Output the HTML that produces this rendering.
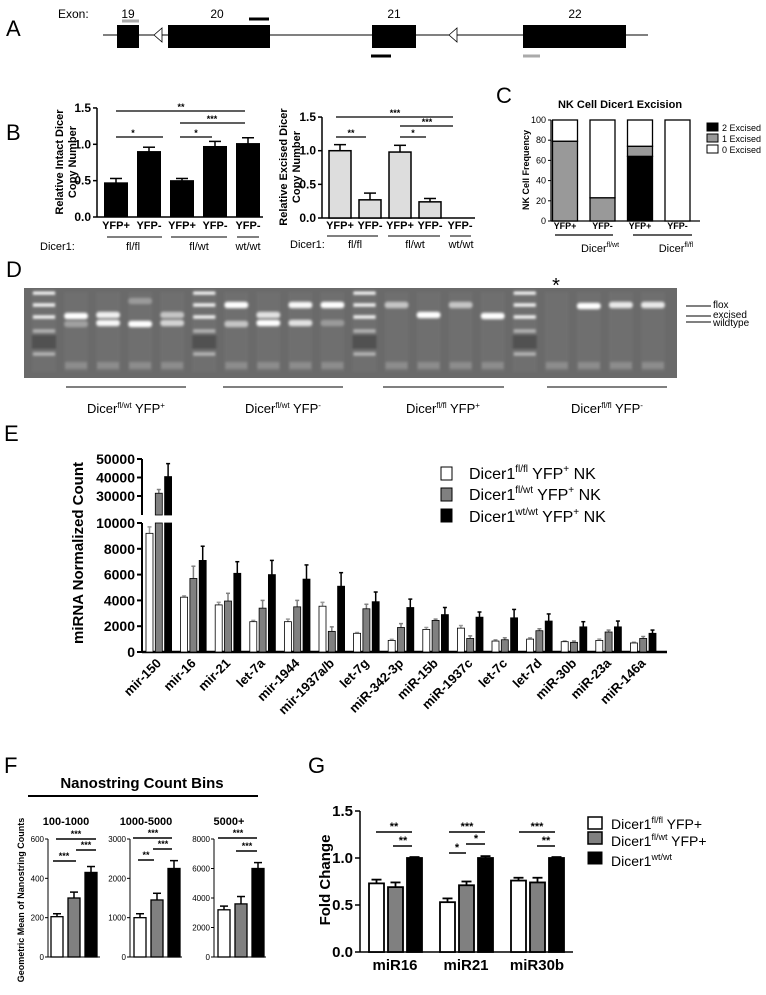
<!DOCTYPE html>
<html><head><meta charset="utf-8"><style>
html,body{margin:0;padding:0;background:#fff;}
svg{display:block;font-family:"Liberation Sans",Arial,sans-serif;}
.n{font-family:"Liberation Sans Narrow","Liberation Sans",sans-serif;}
</style></head><body>
<svg id="fig" width="766" height="995" viewBox="0 0 766 995" xmlns="http://www.w3.org/2000/svg">
<defs><filter id="blur" x="-20%" y="-50%" width="140%" height="200%"><feGaussianBlur stdDeviation="1.3"/></filter>
<filter id="blur2"><feGaussianBlur stdDeviation="3"/></filter></defs>
<!-- Panel letters -->
<g font-size="22">
<text x="6" y="36">A</text>
<text x="6" y="140">B</text>
<text x="496" y="103">C</text>
<text x="6" y="277">D</text>
<text x="4" y="441">E</text>
<text x="4" y="773">F</text>
<text x="308" y="773">G</text>
</g>
<!-- Panel A gene diagram -->
<g>
<text x="58" y="18" font-size="12">Exon:</text>
<text x="128" y="18" font-size="12" text-anchor="middle">19</text>
<text x="217" y="18" font-size="12" text-anchor="middle">20</text>
<text x="394" y="18" font-size="12" text-anchor="middle">21</text>
<text x="575" y="18" font-size="12" text-anchor="middle">22</text>
<line x1="103" y1="35" x2="648" y2="35" stroke="#000" stroke-width="1"/>
<rect x="117" y="25" width="22" height="23" fill="#000"/>
<rect x="168" y="25" width="102" height="23" fill="#000"/>
<rect x="372" y="25" width="44" height="23" fill="#000"/>
<rect x="523" y="25" width="103" height="23" fill="#000"/>
<polygon points="154,35 162,28 162,42" fill="#fff" stroke="#000" stroke-width="0.8"/>
<polygon points="449,35 457,28 457,42" fill="#fff" stroke="#000" stroke-width="0.8"/>
<line x1="122" y1="21" x2="139" y2="21" stroke="#aaa" stroke-width="3"/>
<line x1="249" y1="19" x2="269" y2="19" stroke="#000" stroke-width="3"/>
<line x1="371" y1="56" x2="391" y2="56" stroke="#000" stroke-width="3"/>
<line x1="523" y1="56" x2="540" y2="56" stroke="#aaa" stroke-width="3"/>
</g>
<!-- Panel B static -->
<g font-size="11">
<text transform="translate(63,162) rotate(-90)" text-anchor="middle" font-weight="bold">Relative Intact Dicer</text>
<text transform="translate(76,162) rotate(-90)" text-anchor="middle" font-weight="bold">Copy Number</text>
<text transform="translate(287,167) rotate(-90)" text-anchor="middle" font-weight="bold">Relative Excised Dicer</text>
<text transform="translate(300,167) rotate(-90)" text-anchor="middle" font-weight="bold">Copy Number</text>
<text x="40" y="250" font-size="11">Dicer1:</text>
<text x="133" y="250" text-anchor="middle">fl/fl</text>
<text x="199" y="250" text-anchor="middle">fl/wt</text>
<text x="248" y="250" text-anchor="middle">wt/wt</text>
<line x1="107" y1="237" x2="162" y2="237" stroke="#000"/>
<line x1="171" y1="237" x2="227" y2="237" stroke="#000"/>
<line x1="237" y1="237" x2="259" y2="237" stroke="#000"/>
<text x="290" y="248">Dicer1:</text>
<text x="355" y="248" text-anchor="middle">fl/fl</text>
<text x="415" y="248" text-anchor="middle">fl/wt</text>
<text x="461" y="248" text-anchor="middle">wt/wt</text>
<line x1="327" y1="236" x2="378" y2="236" stroke="#000"/>
<line x1="388" y1="236" x2="440" y2="236" stroke="#000"/>
<line x1="450" y1="236" x2="471" y2="236" stroke="#000"/>
<g stroke="#000" stroke-width="1.3">
<line x1="116" y1="111" x2="245" y2="111"/><line x1="180" y1="123" x2="245" y2="123"/>
<line x1="116" y1="137" x2="163" y2="137"/><line x1="180" y1="137" x2="212" y2="137"/>
<line x1="336" y1="117" x2="453" y2="117"/><line x1="400" y1="126" x2="453" y2="126"/>
<line x1="336" y1="137" x2="366" y2="137"/><line x1="400" y1="137" x2="426" y2="137"/>
</g>
<g font-size="9" font-weight="bold" text-anchor="middle">
<text x="181" y="110">**</text><text x="212" y="122">***</text><text x="133" y="136">*</text><text x="196" y="136">*</text>
<text x="395" y="116">***</text><text x="427" y="125">***</text><text x="351" y="136">**</text><text x="413" y="136">*</text>
</g>
</g>
<!-- Panel C static -->
<g font-size="9">
<text x="620" y="108" font-size="11" font-weight="bold" text-anchor="middle">NK Cell Dicer1 Excision</text>
<text transform="translate(529,170) rotate(-90)" text-anchor="middle" font-weight="bold">NK Cell Frequency</text>
<line x1="555" y1="235" x2="613" y2="235" stroke="#000" stroke-width="1.3"/>
<line x1="633" y1="235" x2="692" y2="235" stroke="#000" stroke-width="1.3"/>
<text x="600" y="252" font-size="11" text-anchor="middle">Dicer<tspan font-size="7" dy="-5">fl/wt</tspan></text>
<text x="676" y="252" font-size="11" text-anchor="middle">Dicer<tspan font-size="7" dy="-5">fl/fl</tspan></text>
<g>
<rect x="707" y="123" width="11" height="8" fill="#000" stroke="#000"/>
<rect x="707" y="134" width="11" height="8" fill="#999" stroke="#000"/>
<rect x="707" y="145" width="11" height="8" fill="#fff" stroke="#000"/>
<text x="722" y="131">2 Excised</text><text x="722" y="142">1 Excised</text><text x="722" y="153">0 Excised</text>
</g>
</g>
<!-- Panel D gel -->
<g>
<rect x="24" y="288" width="653" height="90" fill="#6a6a6a"/>
<g id="gelBands" filter="url(#blur)"></g>
<text x="556" y="292" font-size="20" text-anchor="middle">*</text>
<line x1="686" y1="306" x2="711" y2="306" stroke="#000"/>
<line x1="686" y1="316" x2="711" y2="316" stroke="#000"/>
<line x1="686" y1="322" x2="711" y2="322" stroke="#000"/>
<text x="713" y="308" font-size="10">flox</text>
<text x="713" y="318" font-size="10">excised</text>
<text x="713" y="326" font-size="10">wildtype</text>
<line x1="66" y1="387" x2="186" y2="387" stroke="#000"/>
<line x1="223" y1="387" x2="343" y2="387" stroke="#000"/>
<line x1="383" y1="387" x2="504" y2="387" stroke="#000"/>
<line x1="547" y1="387" x2="667" y2="387" stroke="#000"/>
<g font-size="13" text-anchor="middle">
<text x="126" y="413">Dicer<tspan font-size="8" dy="-5">fl/wt</tspan><tspan dy="5"> YFP</tspan><tspan font-size="8" dy="-5">+</tspan></text>
<text x="283" y="413">Dicer<tspan font-size="8" dy="-5">fl/wt</tspan><tspan dy="5"> YFP</tspan><tspan font-size="8" dy="-5">-</tspan></text>
<text x="443" y="413">Dicer<tspan font-size="8" dy="-5">fl/fl</tspan><tspan dy="5"> YFP</tspan><tspan font-size="8" dy="-5">+</tspan></text>
<text x="607" y="413">Dicer<tspan font-size="8" dy="-5">fl/fl</tspan><tspan dy="5"> YFP</tspan><tspan font-size="8" dy="-5">-</tspan></text>
</g>
</g>
<!-- Panel E static -->
<g>
<text class="n" transform="translate(83,553) rotate(-90)" font-size="15" font-weight="bold" text-anchor="middle">miRNA Normalized Count</text>
<g font-size="16">
<rect x="441" y="467" width="11" height="13" fill="#fff" stroke="#000"/>
<rect x="441" y="488" width="11" height="13" fill="#808080" stroke="#000"/>
<rect x="441" y="509" width="11" height="13" fill="#000" stroke="#000"/>
<text x="469" y="479">Dicer1<tspan font-size="10" dy="-7">fl/fl</tspan><tspan dy="7"> YFP</tspan><tspan font-size="10" dy="-7">+</tspan><tspan dy="7"> NK</tspan></text>
<text x="469" y="500">Dicer1<tspan font-size="10" dy="-7">fl/wt</tspan><tspan dy="7"> YFP</tspan><tspan font-size="10" dy="-7">+</tspan><tspan dy="7"> NK</tspan></text>
<text x="469" y="522">Dicer1<tspan font-size="10" dy="-7">wt/wt</tspan><tspan dy="7"> YFP</tspan><tspan font-size="10" dy="-7">+</tspan><tspan dy="7"> NK</tspan></text>
</g>
</g>
<!-- Panel F static -->
<g>
<text class="n" x="142" y="788" font-size="15" font-weight="bold" text-anchor="middle">Nanostring Count Bins</text>
<line x1="28" y1="796" x2="258" y2="796" stroke="#000" stroke-width="2"/>
<text transform="translate(24,900) rotate(-90)" font-size="9" font-weight="bold" text-anchor="middle">Geometric Mean of  Nanostring Counts</text>
<g class="n" font-size="11" font-weight="bold" text-anchor="middle">
<text x="66" y="825">100-1000</text>
<text x="146" y="825">1000-5000</text>
<text x="229" y="825">5000+</text>
</g>
<g stroke="#000" stroke-width="1.5">
<line x1="56" y1="839" x2="96" y2="839"/><line x1="76" y1="850" x2="96" y2="850"/><line x1="53" y1="861" x2="76" y2="861"/>
<line x1="133" y1="838" x2="172" y2="838"/><line x1="153" y1="849" x2="172" y2="849"/><line x1="138" y1="860" x2="154" y2="860"/>
<line x1="218" y1="838" x2="257" y2="838"/><line x1="236" y1="851" x2="257" y2="851"/>
</g>
<g font-size="9" font-weight="bold" text-anchor="middle">
<text x="76" y="837">***</text><text x="86" y="848">***</text><text x="64" y="859">***</text>
<text x="153" y="836">***</text><text x="163" y="847">***</text><text x="146" y="858">**</text>
<text x="238" y="836">***</text><text x="247" y="849">***</text>
</g>
</g>
<!-- Panel G static -->
<g>
<text class="n" transform="translate(330,880) rotate(-90)" font-size="15" font-weight="bold" text-anchor="middle">Fold Change</text>
<g stroke="#000" stroke-width="1.5">
<line x1="376" y1="832" x2="412" y2="832"/><line x1="393" y1="846" x2="412" y2="846"/>
<line x1="449" y1="832" x2="485" y2="832"/><line x1="466" y1="844" x2="485" y2="844"/><line x1="449" y1="853" x2="466" y2="853"/>
<line x1="519" y1="832" x2="555" y2="832"/><line x1="537" y1="846" x2="555" y2="846"/>
</g>
<g font-size="11" font-weight="bold" text-anchor="middle">
<text x="394" y="830">**</text><text x="403" y="844">**</text>
<text x="467" y="830">***</text><text x="476" y="842">*</text><text x="457" y="851">*</text>
<text x="537" y="830">***</text><text x="546" y="844">**</text>
</g>
<g font-size="14">
<rect x="588" y="817" width="14" height="12" fill="#fff" stroke="#000" stroke-width="1.5"/>
<rect x="588" y="832" width="14" height="12" fill="#808080" stroke="#000" stroke-width="1.5"/>
<rect x="588" y="852" width="14" height="12" fill="#000" stroke="#000"/>
<text x="611" y="829">Dicer1<tspan font-size="9" dy="-6">fl/fl</tspan><tspan dy="6"> YFP+</tspan></text>
<text x="611" y="846">Dicer1<tspan font-size="9" dy="-6">fl/wt</tspan><tspan dy="6"> YFP+</tspan></text>
<text x="611" y="866">Dicer1<tspan font-size="9" dy="-6">wt/wt</tspan></text>
</g>
</g>
</svg>
<script>
// ---------- data ----------
const b1Cats = ['YFP+','YFP-','YFP+','YFP-','YFP-'];
const b1Vals = [0.47, 0.9, 0.5, 0.97, 1.01];
const b1Errs = [0.06, 0.06, 0.03, 0.07, 0.08];
const b1Ticks = [0, 0.5, 1.0, 1.5];
const b1TickLabels = ['0.0','0.5','1.0','1.5'];

const b2Cats = ['YFP+','YFP-','YFP+','YFP-','YFP-'];
const b2Vals = [1.0, 0.27, 0.98, 0.24, 0];
const b2Errs = [0.09, 0.1, 0.1, 0.05, 0];
const b2Ticks = [0, 0.5, 1.0, 1.5];
const b2TickLabels = ['0.0','0.5','1.0','1.5'];

const cCats = ['YFP+','YFP-','YFP+','YFP-'];
const cTwo = [0, 0, 64, 0];
const cOne = [79, 23, 10, 0];
const cZero = [21, 77, 26, 100];
const cTicks = [0, 20, 40, 60, 80, 100];

const eCats = ['mir-150','mir-16','mir-21','let-7a','mir-1944','mir-1937a/b','let-7g','miR-342-3p','miR-15b','miR-1937c','let-7c','let-7d','miR-30b','miR-23a','miR-146a'];
const eFlfl = [9200,4250,3650,2350,2350,3550,1450,900,1750,1850,850,1000,800,900,700];
const eFlfl_err = [500,100,200,100,200,300,60,80,150,200,100,100,60,100,60];
const eFlwt = [31500,5700,3950,3400,3500,1600,3350,1900,2450,1050,950,1650,750,1550,1050];
const eFlwt_err = [2000,950,600,600,500,350,350,300,100,200,150,150,100,150,150];
const eWtwt = [40500,7100,6100,6000,5650,5100,3900,3450,2900,2700,2650,2400,1950,1950,1450];
const eWtwt_err = [7000,1100,900,1100,1100,1050,750,650,550,400,650,550,400,450,250];
const eTicksLow = [0,2000,4000,6000,8000,10000];
const eTicksHigh = [30000,40000,50000];

const f1Vals = [205, 300, 430];
const f1Errs = [15, 30, 30];
const f1Ticks = [0, 200, 400, 600];
const f2Vals = [1000, 1450, 2250];
const f2Errs = [100, 170, 200];
const f2Ticks = [0, 1000, 2000, 3000];
const f3Vals = [3200, 3600, 6000];
const f3Errs = [250, 500, 400];
const f3Ticks = [0, 2000, 4000, 6000, 8000];

const gCats = ['miR16','miR21','miR30b'];
const gFlfl = [0.73, 0.53, 0.76];
const gFlfl_err = [0.04, 0.04, 0.03];
const gFlwt = [0.69, 0.71, 0.74];
const gFlwt_err = [0.05, 0.04, 0.05];
const gWtwt = [1.0, 1.0, 1.0];
const gWtwt_err = [0.01, 0.02, 0.01];
const gTicks = [0, 0.5, 1.0, 1.5];
const gTickLabels = ['0.0','0.5','1.0','1.5'];

// gel lanes: 0=ladder; bands: [y, intensity]
const gelLaneKinds = ['L','s','s','s','s','L','s','s','s','s','L','s','s','s','s','L','s','s','s','s'];
const gelBands = [
 [], [[316,1],[324,0.35]], [[315,0.9],[323,0.95]], [[301,0.3],[324,1]], [[315,0.6],[323,0.7]],
 [], [[305,1],[324,0.6]], [[315,0.8],[323,1]], [[305,0.95],[323,0.8]], [[305,1],[323,0.3]],
 [], [[305,0.6]], [[315,1]], [[305,0.6]], [[316,1]],
 [], [], [[306,1]], [[305,0.85]], [[305,0.85]]
];

// ---------- helpers ----------
const NS = 'http://www.w3.org/2000/svg';
const root = document.getElementById('fig');
function add(tag, a, name, parent) {
  const e = document.createElementNS(NS, tag);
  for (const k in a) e.setAttribute(k, a[k]);
  
  
  (parent || root).appendChild(e);
  return e;
}
function ln(x1,y1,x2,y2,w,c,name){ return add('line',{x1:x1,y1:y1,x2:x2,y2:y2,stroke:c||'#000','stroke-width':w||1},name); }
function tx(x,y,s,size,anchor,name,weight,cls){ const t = add('text',{x:x,y:y,'font-size':size,'text-anchor':anchor||'middle','font-weight':weight||'normal'},name); if(cls) t.setAttribute('class',cls); t.textContent = s; return t; }
function bar(x,y0,y1,w,fill,name,sw){ return add('rect',{x:x,y:Math.min(y0,y1),width:w,height:Math.abs(y0-y1),fill:fill,stroke:'#000','stroke-width':sw||1},name); }
function errbar(cx,yTop,yErr,cap,c,w,name){ ln(cx,yTop,cx,yErr,w||1.3,c,name); ln(cx-cap,yErr,cx+cap,yErr,w||1.3,c,name); }

// ---------- Panel B1 ----------
(function(){
  const X0=97, Y0=217, k=72.7, xEnd=263;
  const y = v => Y0 - v*k;
  ln(X0,y(1.5),X0,Y0,1.5,'#000','b1-y-axis');
  ln(X0,Y0,xEnd,Y0,1.5,'#000','b1-x-axis');
  b1Ticks.forEach((t,i)=>{ ln(X0-4,y(t),X0,y(t),1.5,'#000','b1-y-tick'); tx(X0-6,y(t)+4,b1TickLabels[i],12,'end','b1-y-tick-label','bold'); });
  b1Vals.forEach((v,i)=>{
    const cx = 116 + i*33;
    errbar(cx,y(v),y(v+b1Errs[i]),6,'#000',1.5,'b1-error-bar');
    bar(cx-11.5,Y0,y(v),23,'#000','b1-bar');
    tx(cx,229,b1Cats[i],11,'middle','b1-x-label','bold');
  });
})();
// ---------- Panel B2 ----------
(function(){
  const X0=322, Y0=218, k=67.3, xEnd=475;
  const y = v => Y0 - v*k;
  ln(X0,y(1.5),X0,Y0,1.5,'#000','b2-y-axis');
  ln(X0,Y0,xEnd,Y0,1.5,'#000','b2-x-axis');
  b2Ticks.forEach((t,i)=>{ ln(X0-4,y(t),X0,y(t),1.5,'#000','b2-y-tick'); tx(X0-6,y(t)+4,b2TickLabels[i],12,'end','b2-y-tick-label','bold'); });
  b2Vals.forEach((v,i)=>{
    const cx = 340 + i*30;
    if (v>0) {
      errbar(cx,y(v),y(v+b2Errs[i]),6,'#000',1.5,'b2-error-bar');
      bar(cx-11,Y0,y(v),22,'#ddd','b2-bar',1.5);
    }
    tx(cx,229,b2Cats[i],11,'middle','b2-x-label','bold');
  });
})();
// ---------- Panel C ----------
(function(){
  const X0=551, Y0=221, k=1.01, xEnd=700;
  const y = v => Y0 - v*k;
  ln(X0,y(100),X0,Y0,1.2,'#000','c-y-axis');
  ln(X0,Y0,xEnd,Y0,1.2,'#000','c-x-axis');
  cTicks.forEach(t=>{ ln(X0-3,y(t),X0,y(t),1,'#000','c-y-tick'); tx(X0-5,y(t)+3,String(t),9,'end','c-y-tick-label'); });
  cCats.forEach((c,i)=>{
    const cx = 565 + i*37.5, x = cx-12.5;
    let base = 0;
    [[cTwo[i],'#000'],[cOne[i],'#999'],[cZero[i],'#fff']].forEach(([v,f])=>{
      if (v>0) bar(x,y(base),y(base+v),25,f,'c-stacked-segment',1.3);
      base += v;
    });
    tx(cx,229,c,9,'middle','c-x-label','bold');
  });
})();
// ---------- Panel D gel bands ----------
(function(){
  const g = document.getElementById('gelBands');
  gelLaneKinds.forEach((kind,i)=>{
    const cx = 44 + i*32.05;
    add('rect',{x:cx-12,y:292,width:24,height:80,fill:'#777',opacity:0.35},'gel-lane',g);
    if (kind==='L') {
      [293,305,317,331,354].forEach((yy,j)=>{ add('rect',{x:cx-11,y:yy-1.5,width:22,height:3,fill:'#fff',opacity:j<3?0.95:0.5},'ladder-band',g); });
      add('rect',{x:cx-12,y:335,width:24,height:14,fill:'#333',opacity:0.5},'ladder-smear',g);
    } else {
      gelBands[i].forEach(b=>{ add('rect',{x:cx-12,y:b[0]-3,width:24,height:6,rx:3,fill:'#fff',opacity:b[1]},'gel-band',g); });
      add('rect',{x:cx-11,y:362,width:22,height:7,fill:'#999',opacity:0.7},'primer-dimer-band',g);
    }
  });
})();
// ---------- Panel E ----------
(function(){
  const X0=142, Y0=652, kL=0.0129, xEnd=667, lowTop=523, upBot=515;
  const yL = v => Y0 - Math.min(v,10000)*kL;
  const yU = v => 496 - (v-30000)*0.00185;
  const yv = v => v<=10000 ? yL(v) : yU(v);
  ln(X0,lowTop,X0,Y0,2,'#000','e-y-axis-lower');
  ln(X0,yU(50000),X0,upBot,2,'#000','e-y-axis-upper');
  ln(X0,Y0,xEnd,Y0,2.5,'#000','e-x-axis');
  eTicksLow.forEach(t=>{ ln(X0-5,yL(t),X0,yL(t),2,'#000','e-y-tick'); tx(X0-7,yL(t)+5,String(t),14,'end','e-y-tick-label','bold','n'); });
  eTicksHigh.forEach(t=>{ ln(X0-5,yU(t),X0,yU(t),2,'#000','e-y-tick'); tx(X0-7,yU(t)+5,String(t),14,'end','e-y-tick-label','bold','n'); });
  const series = [[eFlfl,eFlfl_err,'#fff','#999'],[eFlwt,eFlwt_err,'#808080','#808080'],[eWtwt,eWtwt_err,'#000','#000']];
  eCats.forEach((c,gi)=>{
    const gx = 146 + gi*34.6;
    series.forEach((s,si)=>{
      const v = s[0][gi], e = s[1][gi], x = gx + si*9.3;
      errbar(x+3.5,yv(v),yv(v+e),2,s[3],1.5,'e-error-bar');
      bar(x,Y0,yL(v),7,s[2],'e-bar',0.8);
      if (v>10000) bar(x,upBot,yU(v),7,s[2],'e-bar-upper',0.8);
    });
    const t = tx(0,0,c,13,'end','e-x-label','bold','n');
    t.setAttribute('transform','translate('+(gx+16)+',664) rotate(-45)');
  });
})();
// ---------- Panel F ----------
(function(){
  const subs = [
    {x0:48, max:600, vals:f1Vals, errs:f1Errs, ticks:f1Ticks, bx:51},
    {x0:130, max:3000, vals:f2Vals, errs:f2Errs, ticks:f2Ticks, bx:134},
    {x0:214, max:8000, vals:f3Vals, errs:f3Errs, ticks:f3Ticks, bx:218}
  ];
  const Y0=957, H=118, fills=['#fff','#808080','#000'];
  subs.forEach((s,si)=>{
    const y = v => Y0 - v/s.max*H;
    ln(s.x0,y(s.max),s.x0,Y0,1,'#000','f-y-axis');
    ln(s.x0,Y0,s.x0+52,Y0,1,'#000','f-x-axis');
    s.ticks.forEach(t=>{ ln(s.x0-3,y(t),s.x0,y(t),1,'#000','f-y-tick'); tx(s.x0-4,y(t)+3,String(t),8,'end','f-y-tick-label','normal','n'); });
    s.vals.forEach((v,i)=>{
      const x = s.bx + i*17;
      errbar(x+6,y(v),y(v+s.errs[i]),4,'#000',1.5,'f-error-bar');
      bar(x,Y0,y(v),12,fills[i],'f-bar',1.3);
    });
  });
})();
// ---------- Panel G ----------
(function(){
  const X0=360, Y0=952, k=94, xEnd=573;
  const y = v => Y0 - v*k;
  ln(X0,y(1.5),X0,Y0,1.5,'#000','g-y-axis');
  ln(X0,Y0,xEnd,Y0,1.5,'#000','g-x-axis');
  gTicks.forEach((t,i)=>{ ln(X0-5,y(t),X0,y(t),1.5,'#000','g-y-tick'); tx(X0-7,y(t)+5,gTickLabels[i],15,'end','g-y-tick-label','bold','n'); });
  const series = [[gFlfl,gFlfl_err,'#fff'],[gFlwt,gFlwt_err,'#808080'],[gWtwt,gWtwt_err,'#000']];
  gCats.forEach((c,gi)=>{
    const gx = 369 + gi*71;
    series.forEach((s,si)=>{
      const v=s[0][gi], e=s[1][gi], x = gx + si*19;
      errbar(x+7.5,y(v),y(v+e),5,'#000',1.8,'g-error-bar');
      bar(x,Y0,y(v),15,s[2],'g-bar',1.8);
    });
    tx(gx+26,970,c,15,'middle','g-x-label','bold','n');
  });
})();
</script>
</body></html>
